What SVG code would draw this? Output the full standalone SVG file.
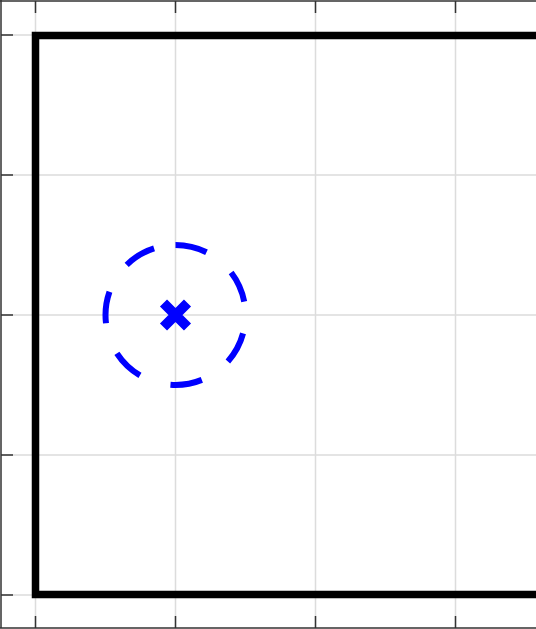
<svg xmlns="http://www.w3.org/2000/svg" width="536" height="629" viewBox="0 0 536 629">
<style>
.grid{stroke:#dcdcdc;stroke-width:1.5;fill:none}
.tick{stroke:#333;stroke-width:1.5;fill:none}
.spine{stroke:#333;stroke-width:1.5;fill:none}
.wall{stroke:#000;stroke-width:7.5;fill:none;stroke-linejoin:miter}
.ring{stroke:#0000ff;stroke-width:6;fill:none;stroke-dasharray:32.1 32.1}
.mark{stroke:#0000ff;stroke-width:10;stroke-linecap:butt}
</style>
<rect width="536" height="629" fill="#fff"/>
<g id="grid">
<path class="grid" d="M35.5,1V628M175.5,1V628M315.5,1V628M455.5,1V628"/>
<path class="grid" d="M1,35H536M1,175H536M1,315H536M1,455H536M1,595H536"/>
</g>
<g id="axes">
<path class="spine" d="M1,0V628M0,1H536M0,628H536"/>
<path class="tick" d="M35.5,1V13M175.5,1V13M315.5,1V13M455.5,1V13"/>
<path class="tick" d="M35.5,616V628M175.5,616V628M315.5,616V628M455.5,616V628"/>
<path class="tick" d="M1,35H13M1,175H13M1,315H13M1,455H13M1,595H13"/>
</g>
<g id="walls">
<path class="wall" d="M540,35.5H35.5V594.5H540"/>
</g>
<g id="circle">
<path class="ring" d="M175.5,245A70,70 0 1,1 175.5,385A70,70 0 1,1 175.5,245"/>
</g>
<g id="marker">
<path class="mark" d="M163.5,303L187.5,327M187.5,303L163.5,327"/>
</g>
</svg>
